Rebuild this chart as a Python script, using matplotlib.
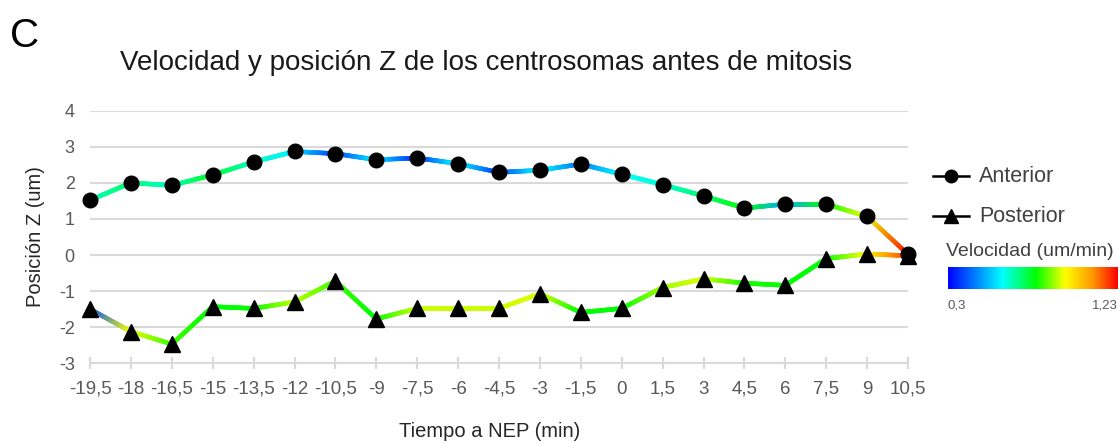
import numpy as np
import matplotlib
matplotlib.use("Agg")
import matplotlib.pyplot as plt
from matplotlib.collections import LineCollection
from matplotlib.colors import LinearSegmentedColormap, Normalize
from matplotlib.lines import Line2D

plt.rcParams['font.family'] = ['Liberation Sans', 'DejaVu Sans']

# Data
time_labels = ["-19,5", "-18", "-16,5", "-15", "-13,5", "-12", "-10,5", "-9", "-7,5", "-6",
               "-4,5", "-3", "-1,5", "0", "1,5", "3", "4,5", "6", "7,5", "9", "10,5"]
anterior = [1.52, 2.00, 1.93, 2.22, 2.58, 2.87, 2.81, 2.64, 2.69, 2.53,
            2.29, 2.35, 2.52, 2.24, 1.95, 1.64, 1.30, 1.41, 1.41, 1.07, 0.02]
posterior = [-1.50, -2.12, -2.47, -1.43, -1.48, -1.30, -0.72, -1.77, -1.48, -1.48,
             -1.48, -1.07, -1.59, -1.48, -0.90, -0.66, -0.78, -0.84, -0.10, 0.03, -0.02]
vel_anterior = [0.65, 0.70, 0.64, 0.76, 0.64, 0.58, 0.37, 0.58, 0.35, 0.60,
                0.37, 0.60, 0.44, 0.60, 0.63, 0.70, 0.78, 0.50, 0.78, 0.93, 1.21]
vel_posterior = [0.39, 0.93, 0.82, 0.78, 0.78, 0.90, 0.82, 0.78, 0.91, 0.91,
                 0.91, 0.92, 0.78, 0.78, 0.88, 0.92, 0.80, 0.78, 0.78, 0.95, 1.16]
vel_min, vel_max = 0.3, 1.23
y_ticks = [4, 3, 2, 1, 0, -1, -2, -3]

cmap = LinearSegmentedColormap.from_list(
    "vel", [(0.0, "#0000ff"), (0.32, "#00ffff"), (0.52, "#00ff00"),
            (0.69, "#ffff00"), (0.85, "#ff9900"), (1.0, "#ff0000")])
norm = Normalize(vel_min, vel_max)

W, H = 1120, 443
fig = plt.figure(figsize=(W / 100, H / 100), dpi=100)
ax = fig.add_axes([90 / W, 1 - 363.3 / H, (908 - 90) / W, (363.3 - 110.7) / H])

x = np.arange(len(time_labels))


def gradient_line(ax, xs, ys, vel, n=40):
    segs, cols = [], []
    for i in range(len(xs) - 1):
        c0 = np.array(cmap(norm(vel[i]))[:3])
        c1 = np.array(cmap(norm(vel[i + 1]))[:3])
        t = np.linspace(0, 1, n + 1)
        px = xs[i] + (xs[i + 1] - xs[i]) * t
        py = ys[i] + (ys[i + 1] - ys[i]) * t
        for k in range(n):
            segs.append([(px[k], py[k]), (px[k + 1], py[k + 1])])
            tm = (t[k] + t[k + 1]) / 2
            cols.append(c0 * (1 - tm) + c1 * tm)
    lc = LineCollection(segs, colors=cols, linewidths=3.3, capstyle="round",
                        zorder=3, clip_on=False)
    ax.add_collection(lc)


gradient_line(ax, x, anterior, vel_anterior)
gradient_line(ax, x, posterior, vel_posterior)
ax.plot(x, anterior, linestyle="none", marker="o", ms=10.5, color="black",
        zorder=4, clip_on=False)
ax.plot(x, posterior, linestyle="none", marker="^", ms=11, color="black",
        zorder=4, clip_on=False)

ax.set_xlim(0, len(time_labels) - 1)
ax.set_ylim(-3, 4)
ax.set_yticks(y_ticks)
ax.set_yticklabels([str(v) for v in y_ticks])
ax.set_xticks(x)
ax.set_xticklabels(time_labels)
for s in ["top", "right", "left"]:
    ax.spines[s].set_visible(False)
ax.spines["bottom"].set_color("#d9d9d9")
ax.spines["bottom"].set_linewidth(1.5)
ax.grid(axis="y", color="#d9d9d9", linewidth=1.5)
ax.set_axisbelow(True)
ax.tick_params(axis="y", length=0, pad=11, labelsize=13, labelcolor="#595959")
ax.tick_params(axis="x", direction="inout", length=9, width=1.5, color="#d9d9d9",
               pad=8, labelsize=13.5, labelcolor="#595959")
ax.set_ylabel("Posición Z (um)", fontsize=14.5, color="#262626", labelpad=10)

fig.text(490 / W, 1 - 437 / H, "Tiempo a NEP (min)", ha="center", va="baseline",
         fontsize=14.5, color="#262626")
fig.text(486 / W, 1 - 63 / H, "Velocidad y posición Z de los centrosomas antes de mitosis",
         ha="center", va="center", fontsize=20, color="#1a1a1a")
fig.text(10 / W, 1 - 36 / H, "C", ha="left", va="center", fontsize=29, color="black")

# Legend drawn on an overlay in pixel units
ov = fig.add_axes([0, 0, 1, 1], zorder=5)
ov.set_xlim(0, W)
ov.set_ylim(H, 0)
ov.axis("off")
for yy, mk, ms, lab in [(176, "o", 9, "Anterior"), (216, "^", 10, "Posterior")]:
    ov.add_line(Line2D([933, 969], [yy, yy], color="black", lw=1.8))
    ov.add_line(Line2D([951], [yy], marker=mk, ms=ms, color="black"))
    ov.text(979, yy, lab, ha="left", va="center", fontsize=15.5, color="#404040")
ov.text(946, 252, "Velocidad (um/min)", ha="left", va="center", fontsize=14, color="#404040")

cax = fig.add_axes([948 / W, 1 - 289 / H, 170 / W, 22 / H])
grad = np.linspace(0, 1, 256)[None, :]
cax.imshow(grad, aspect="auto", cmap=cmap, extent=[0, 1, 0, 1])
cax.axis("off")
ov.text(948, 305, "0,3", ha="left", va="center", fontsize=9.5, color="#595959")
ov.text(1118, 305, "1,23", ha="right", va="center", fontsize=9.5, color="#595959")

fig.savefig("out.png", dpi=100)
